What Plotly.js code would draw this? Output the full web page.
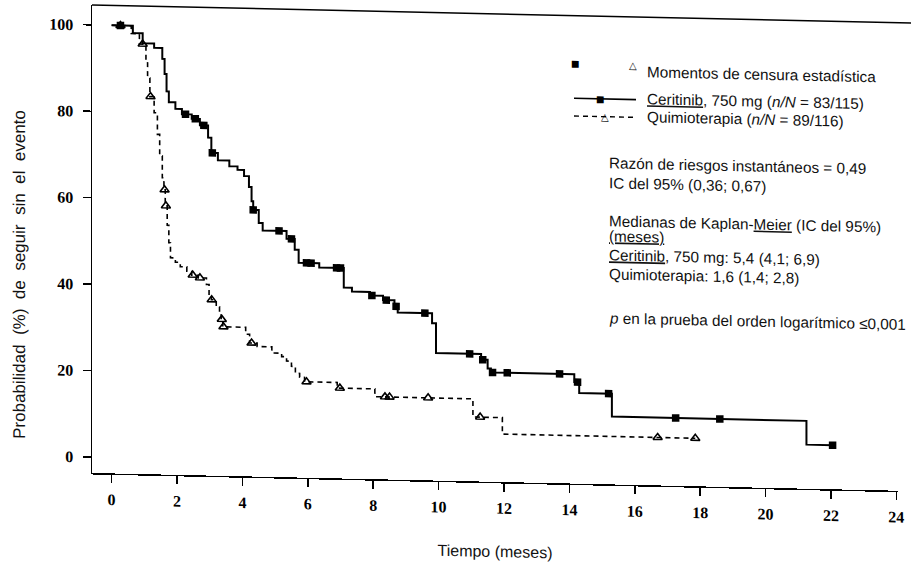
<!DOCTYPE html>
<html>
<head>
<meta charset="utf-8">
<script src="https://cdn.plot.ly/plotly-3.0.1.min.js"></script>
<style>
  html, body { margin: 0; padding: 0; background: #fff; }
  #chart { width: 911px; height: 565px; transform: skewY(1.26deg); transform-origin: 92px 0; }
</style>
</head>
<body>
<div id="chart"></div>
<script>
// ---- Data ----
const cerTime = [0, 0.65, 0.95, 1.3, 1.55, 1.62, 1.68, 1.75, 1.95, 2.15, 2.45, 2.7, 2.95, 3.05, 3.25, 3.6, 3.85, 4.05, 4.2, 4.28, 4.33, 4.5, 4.62, 5.35, 5.6, 5.72, 6.35, 7.1, 7.35, 7.9, 8.3, 8.65, 8.75, 9.8, 9.92, 11.3, 11.5, 11.6, 14.15, 14.3, 15.3, 21.25, 22.05];
const cerSurv = [100, 98.3, 96, 95, 92.5, 89, 85, 82.5, 81, 79.8, 78.8, 77.3, 74.5, 71, 69.3, 68, 67.2, 65.8, 63.3, 60, 58, 55, 53.3, 51.5, 49, 46, 45, 40.5, 39.6, 38.8, 37.8, 36.4, 35, 32.7, 25.8, 24.5, 22.5, 21.6, 19.8, 17.3, 12, 6.5, 6.5];
const cerCensTime = [0.27, 2.26, 2.56, 2.82, 3.08, 4.33, 5.12, 5.5, 5.96, 6.1, 6.88, 7.0, 7.96, 8.4, 8.7, 9.58, 10.95, 11.35, 11.65, 12.1, 13.7, 14.25, 15.2, 17.25, 18.6, 22.05];
const cerCensSurv = [100, 79.8, 78.8, 77.3, 71, 58, 53.3, 51.5, 46, 46, 45, 45, 38.8, 37.8, 36.4, 35, 25.8, 24.5, 21.6, 21.6, 21.6, 19.8, 17.3, 12, 12, 6.5];

const chemoTime = [0, 0.6, 0.85, 1.05, 1.1, 1.17, 1.3, 1.4, 1.47, 1.55, 1.6, 1.64, 1.7, 1.75, 1.8, 1.95, 2.1, 2.3, 2.45, 2.65, 2.9, 2.98, 3.05, 3.2, 3.3, 3.35, 3.4, 4.1, 4.22, 4.45, 4.9, 5.2, 5.35, 5.5, 5.62, 5.75, 5.9, 6.9, 8.05, 11.05, 11.95, 17.85];
const chemoSurv = [100, 98.2, 95.8, 92, 88, 83.7, 80, 75, 70, 65, 62.2, 58.5, 54, 50, 46.5, 45.5, 44.5, 43.5, 42.6, 42, 40.5, 38, 37, 35.4, 33.5, 32.5, 30.8, 29.2, 27.2, 26.4, 25, 24.2, 23.2, 22, 20.4, 19.5, 18.5, 17.2, 15.4, 11.2, 7.4, 7.4];
const chemoCensTime = [0.27, 0.95, 1.19, 1.62, 1.66, 2.48, 2.7, 3.06, 3.37, 3.42, 4.28, 5.96, 6.98, 8.36, 8.5, 9.68, 11.27, 16.7, 17.85];
const chemoCensSurv = [100, 95.8, 83.7, 62.2, 58.5, 42.6, 42, 37, 32.5, 30.8, 27.2, 18.5, 17.2, 15.4, 15.4, 15.4, 11.2, 7.4, 7.4];

const xTicks = [0, 2, 4, 6, 8, 10, 12, 14, 16, 18, 20, 22, 24];
const yTicks = [0, 20, 40, 60, 80, 100];

const xTitle = "Tiempo (meses)";
const yTitle = "Probabilidad (%) de seguir sin el evento";
const legendTitle = "Momentos de censura estadística";
const legendCer = "<u>Ceritinib</u>, 750 mg (<i>n/N</i> = 83/115)";
const legendChemo = "Quimioterapia (<i>n/N</i> = 89/116)";
const statLines = [
  "Razón de riesgos instantáneos = 0,49",
  "IC del 95% (0,36; 0,67)",
  "Medianas de Kaplan-<u>Meier</u> (IC del 95%)",
  "<u>(meses)</u>",
  "<u>Ceritinib</u>, 750 mg: 5,4 (4,1; 6,9)",
  "Quimioterapia: 1,6 (1,4; 2,8)",
  "<i>p</i> en la prueba del orden logarítmico ≤0,001"
];

// ---- Layout helpers (pixel -> paper) ----
const W = 911, H = 565, ML = 92, MR = 13, MT = 5, MB = 92;
const PW = W - ML - MR, PH = H - MT - MB;
const px = x => (x - ML) / PW;
const py = y => (H - MB - y) / PH;

const textFont = {family: "Liberation Sans, Arial, sans-serif", size: 15.3, color: "#111"};

const traces = [
  {x: cerTime, y: cerSurv, type: "scatter", mode: "lines", line: {shape: "hv", color: "#000", width: 2}, showlegend: false, hoverinfo: "skip"},
  {x: cerCensTime, y: cerCensSurv, type: "scatter", mode: "markers", marker: {symbol: "square", size: 7.5, color: "#000"}, showlegend: false, hoverinfo: "skip"},
  {x: chemoTime, y: chemoSurv, type: "scatter", mode: "lines", line: {shape: "hv", color: "#000", width: 1.6, dash: "5px,4px"}, showlegend: false, hoverinfo: "skip"},
  {x: chemoCensTime, y: chemoCensSurv, type: "scatter", mode: "markers", marker: {symbol: "triangle-up-open", size: 8, color: "#000", line: {width: 1.6, color: "#000"}}, showlegend: false, hoverinfo: "skip"}
];

const ann = [];
function addText(text, x, y, opts) {
  ann.push(Object.assign({text: text, x: px(x), y: py(y), xref: "paper", yref: "paper", showarrow: false, xanchor: "left", yanchor: "middle", font: textFont}, opts || {}));
}
// y axis title (placed like the original, which is not centred on the axis)
addText(yTitle.split(" ").join("\u00a0\u00a0"), 20, 276.5, {xanchor: "center", textangle: -90, font: {family: "Liberation Sans, Arial, sans-serif", size: 17, color: "#111"}});
// legend
addText("■", 575, 53, {xanchor: "center", font: {family: "DejaVu Sans", size: 9, color: "#000"}});
addText("△", 633, 54, {xanchor: "center", font: {family: "DejaVu Sans", size: 10, color: "#000"}});
addText(legendTitle, 645, 59);
addText("■", 600, 87.7, {xanchor: "center", font: {family: "DejaVu Sans", size: 9, color: "#000"}});
addText(legendCer, 645, 86);
addText("△", 605, 105, {xanchor: "center", font: {family: "DejaVu Sans", size: 10, color: "#000"}});
addText(legendChemo, 645, 104);
// stats block
const statY = [151, 172, 209, 224, 243, 262, 307];
statLines.forEach((t, i) => addText(t, 607, statY[i]));

const shapes = [
  {type: "line", xref: "paper", yref: "paper", x0: 0, x1: 1.03, y0: 1, y1: 1, line: {color: "#000", width: 1.5}},
  {type: "line", xref: "paper", yref: "paper", x0: px(574), x1: px(636), y0: py(87.7), y1: py(87.7), line: {color: "#000", width: 1.6}},
  {type: "line", xref: "paper", yref: "paper", x0: px(574), x1: px(636), y0: py(105.4), y1: py(105.4), line: {color: "#000", width: 1.4, dash: "5px,4px"}}
];

const layout = {
  width: W, height: H,
  margin: {l: ML, r: MR, t: MT, b: MB},
  paper_bgcolor: "#fff", plot_bgcolor: "#fff",
  showlegend: false,
  xaxis: {
    range: [-0.6, 24.05], tickvals: xTicks, ticktext: xTicks.map(String),
    ticks: "outside", ticklen: 8, tickwidth: 1.5, tickcolor: "#000",
    showline: true, linecolor: "#000", linewidth: 1.5, showgrid: false, zeroline: false,
    tickfont: {family: "Liberation Serif, Times New Roman, serif", size: 16, color: "#000", weight: "bold"},
    ticklabelstandoff: 3,
    title: {text: xTitle, font: {family: "Liberation Sans, Arial, sans-serif", size: 16, color: "#111"}, standoff: 30}
  },
  yaxis: {
    range: [-3.7, 104.6], tickvals: yTicks, ticktext: yTicks.map(String),
    ticks: "outside", ticklen: 8, tickwidth: 1.5, tickcolor: "#000",
    showline: true, linecolor: "#000", linewidth: 1.5, showgrid: false, zeroline: false,
    tickfont: {family: "Liberation Serif, Times New Roman, serif", size: 16, color: "#000", weight: "bold"},
    ticklabelstandoff: 6
  },
  annotations: ann,
  shapes: shapes
};

Plotly.newPlot("chart", traces, layout, {staticPlot: true, displayModeBar: false});
</script>
</body>
</html>
